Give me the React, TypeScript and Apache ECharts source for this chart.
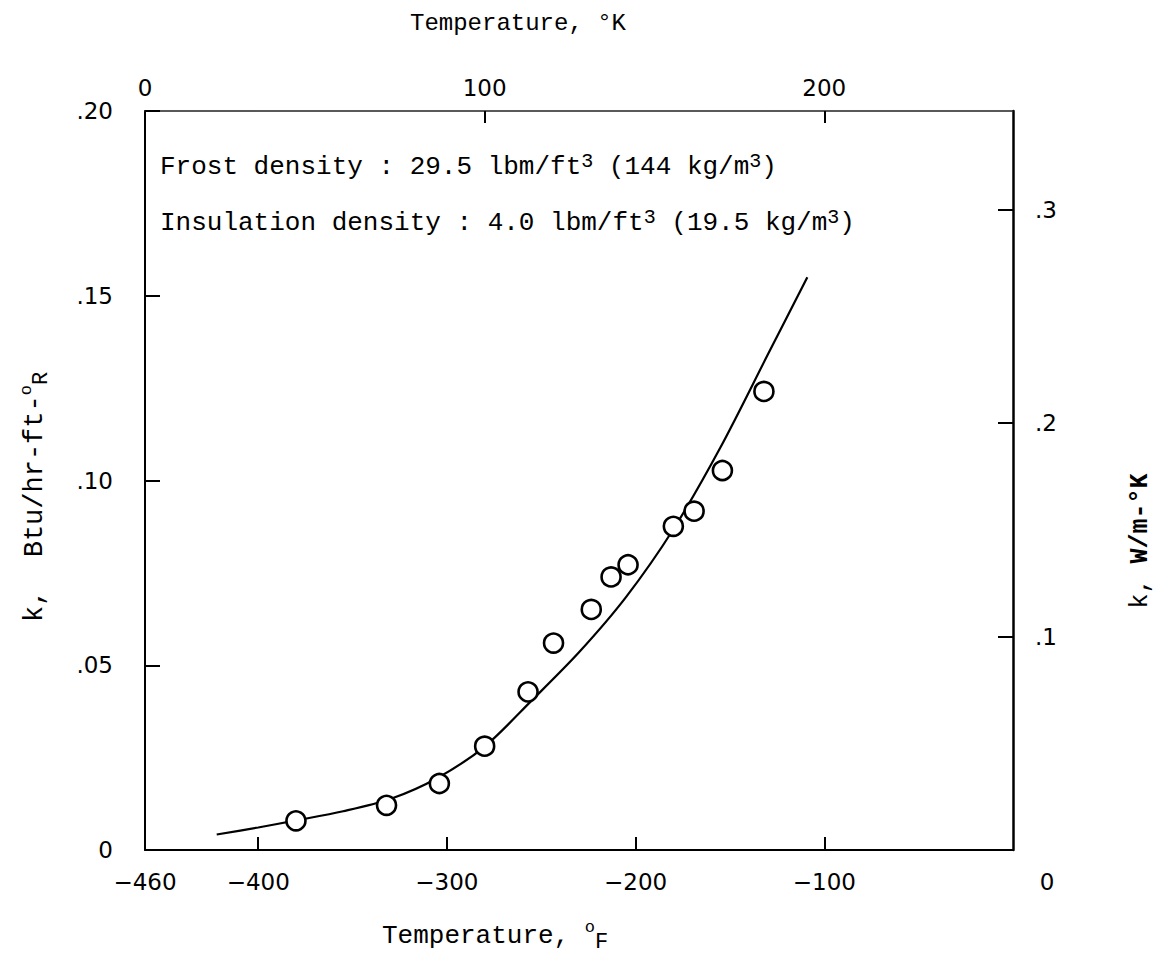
import React, { useEffect, useRef } from "react";
import * as echarts from "echarts";

// Measured data points (temperature °F, k in Btu/hr-ft-°R)
const pointTempF = [-380, -332, -304, -280, -257, -243.5, -223.5, -213, -204, -180, -169, -154, -132];
const pointK = [0.0079, 0.0121, 0.018, 0.0281, 0.0428, 0.056, 0.0651, 0.0739, 0.0772, 0.0876, 0.0917, 0.1027, 0.1241];

// Faired curve
const curveTempF = [-422, -400, -380, -355, -330, -305, -280, -255, -230, -205, -180, -155, -130, -109];
const curveK = [0.0042, 0.0061, 0.008, 0.0105, 0.0138, 0.0195, 0.028, 0.0405, 0.0535, 0.0685, 0.0868, 0.109, 0.134, 0.155];

// Axis ticks / labels
const bottomTicks = [-400, -300, -200, -100];
const bottomLabels = [-460, -400, -300, -200, -100, 0];
const topTicks = [100, 200];
const topLabels = [0, 100, 200];
const leftMax = 0.2;
const rightTicks = [0.1, 0.2, 0.3];
const kelvinMax = 460 / 1.8; // 0 °F in K, with -460 °F as 0 K
const rightMax = leftMax * 1.7307; // W/m-K equivalent of 0.20 Btu/hr-ft-°R

const tickFont = "DejaVu Sans";
const typeFont = "Liberation Mono";

const supRich = (size: number, supSize: number, lh: number, subSize = supSize) => ({
  m: { fontFamily: typeFont, fontSize: size, lineHeight: lh, fill: "#000" },
  s: { fontFamily: typeFont, fontSize: supSize, lineHeight: supSize - 2, verticalAlign: "top", fill: "#000" },
  d: { fontFamily: typeFont, fontSize: subSize, lineHeight: subSize + 2, verticalAlign: "bottom", fill: "#000" },
  b: { fontFamily: typeFont, fontSize: size, lineHeight: lh, fontWeight: "bold", fill: "#000" },
});

const txt = (x: number, y: number, text: string, rich: any, align: string, rotation = 0) => ({
  type: "text",
  x,
  y,
  rotation,
  style: {
    text,
    rich,
    fill: "#000",
    align,
    verticalAlign: "middle",
    textAlign: align,
    textVerticalAlign: "middle",
  },
});

export default function App() {
  const ref = useRef<HTMLDivElement>(null);
  useEffect(() => {
    if (!ref.current) return;
    const chart = echarts.init(ref.current, null, { renderer: "svg" });
    const black = "#000";
    const option: any = {
      animation: false,
      backgroundColor: "#fff",
      grid: { left: 145, right: 152, top: 111, bottom: 109, containLabel: false },
      xAxis: [
        {
          type: "value",
          position: "bottom",
          min: -460,
          max: 0,
          axisLine: { show: true, onZero: false, lineStyle: { color: black, width: 2 } },
          axisTick: { show: true, inside: true, length: 13, customValues: bottomTicks, lineStyle: { color: black, width: 2 } },
          axisLabel: {
            customValues: bottomLabels,
            margin: 20,
            color: black,
            fontFamily: tickFont,
            fontSize: 23,
            formatter: (v: number) => (v === 0 ? "{r|0}" : v < 0 ? "\u2212" + -v : String(v)),
            rich: { r: { padding: [0, 0, 0, 68], fontFamily: tickFont, fontSize: 23, color: black } },
          },
          splitLine: { show: false },
        },
        {
          type: "value",
          position: "top",
          min: 0,
          max: kelvinMax,
          axisLine: { show: true, onZero: false, lineStyle: { color: "#222", width: 1.5 } },
          axisTick: { show: true, inside: true, length: 12, customValues: topTicks, lineStyle: { color: black, width: 2 } },
          axisLabel: {
            customValues: topLabels,
            margin: 12,
            color: black,
            fontFamily: tickFont,
            fontSize: 23,
          },
          splitLine: { show: false },
        },
      ],
      yAxis: [
        {
          type: "value",
          position: "left",
          min: 0,
          max: leftMax,
          interval: 0.05,
          axisLine: { show: true, onZero: false, lineStyle: { color: black, width: 2 } },
          axisTick: { show: true, inside: true, length: 15, lineStyle: { color: black, width: 2 } },
          axisLabel: {
            margin: 32,
            color: black,
            fontFamily: tickFont,
            fontSize: 23,
            formatter: (v: number) => (v === 0 ? "0" : "." + String(Math.round(v * 100)).padStart(2, "0")),
          },
          splitLine: { show: false },
        },
        {
          type: "value",
          position: "right",
          min: 0,
          max: rightMax,
          axisLine: { show: true, onZero: false, lineStyle: { color: black, width: 2.5 } },
          axisTick: { show: true, inside: true, length: 15, customValues: rightTicks, lineStyle: { color: black, width: 2 } },
          axisLabel: {
            customValues: rightTicks,
            margin: 22,
            color: black,
            fontFamily: tickFont,
            fontSize: 23,
            formatter: (v: number) => "." + Math.round(v * 10),
          },
          splitLine: { show: false },
        },
      ],
      series: [
        {
          type: "line",
          xAxisIndex: 0,
          yAxisIndex: 0,
          data: curveTempF.map((t, i) => [t, curveK[i]]),
          smooth: 0.3,
          showSymbol: false,
          symbol: "none",
          lineStyle: { color: black, width: 2.2 },
          z: 2,
          silent: true,
        },
        {
          type: "scatter",
          xAxisIndex: 0,
          yAxisIndex: 0,
          data: pointTempF.map((t, i) => [t, pointK[i]]),
          symbol: "circle",
          symbolSize: 19,
          itemStyle: { color: "#fff", borderColor: black, borderWidth: 2.6, opacity: 1 },
          z: 3,
          silent: true,
        },
      ],
      graphic: [
        txt(518, 23, "{m|Temperature, °K}", supRich(24, 18, 30), "center"),
        txt(382, 936, "{m|Temperature, }{s|o}{d|F}", supRich(26, 17, 34, 22), "left"),
        txt(35, 497, "{m|k,  Btu/hr-ft-}{s|o}{d|R}", supRich(27, 17, 34, 22), "center", Math.PI / 2),
        txt(1140, 541, "{m|k, }{b|W/m-°K}", supRich(25, 18, 30), "center", Math.PI / 2),
        txt(160, 167, "{m|Frost density : 29.5 lbm/ft}{s|3}{m| (144 kg/m}{s|3}{m|)}", supRich(26, 20, 32), "left"),
        txt(160, 223, "{m|Insulation density : 4.0 lbm/ft}{s|3}{m| (19.5 kg/m}{s|3}{m|)}", supRich(26, 20, 32), "left"),
      ],
    };
    chart.setOption(option);
    return () => chart.dispose();
  }, []);
  return (
    <div
      ref={ref}
      style={{ position: "absolute", left: 0, top: 0, width: "1165px", height: "959px", background: "#fff" }}
    />
  );
}
